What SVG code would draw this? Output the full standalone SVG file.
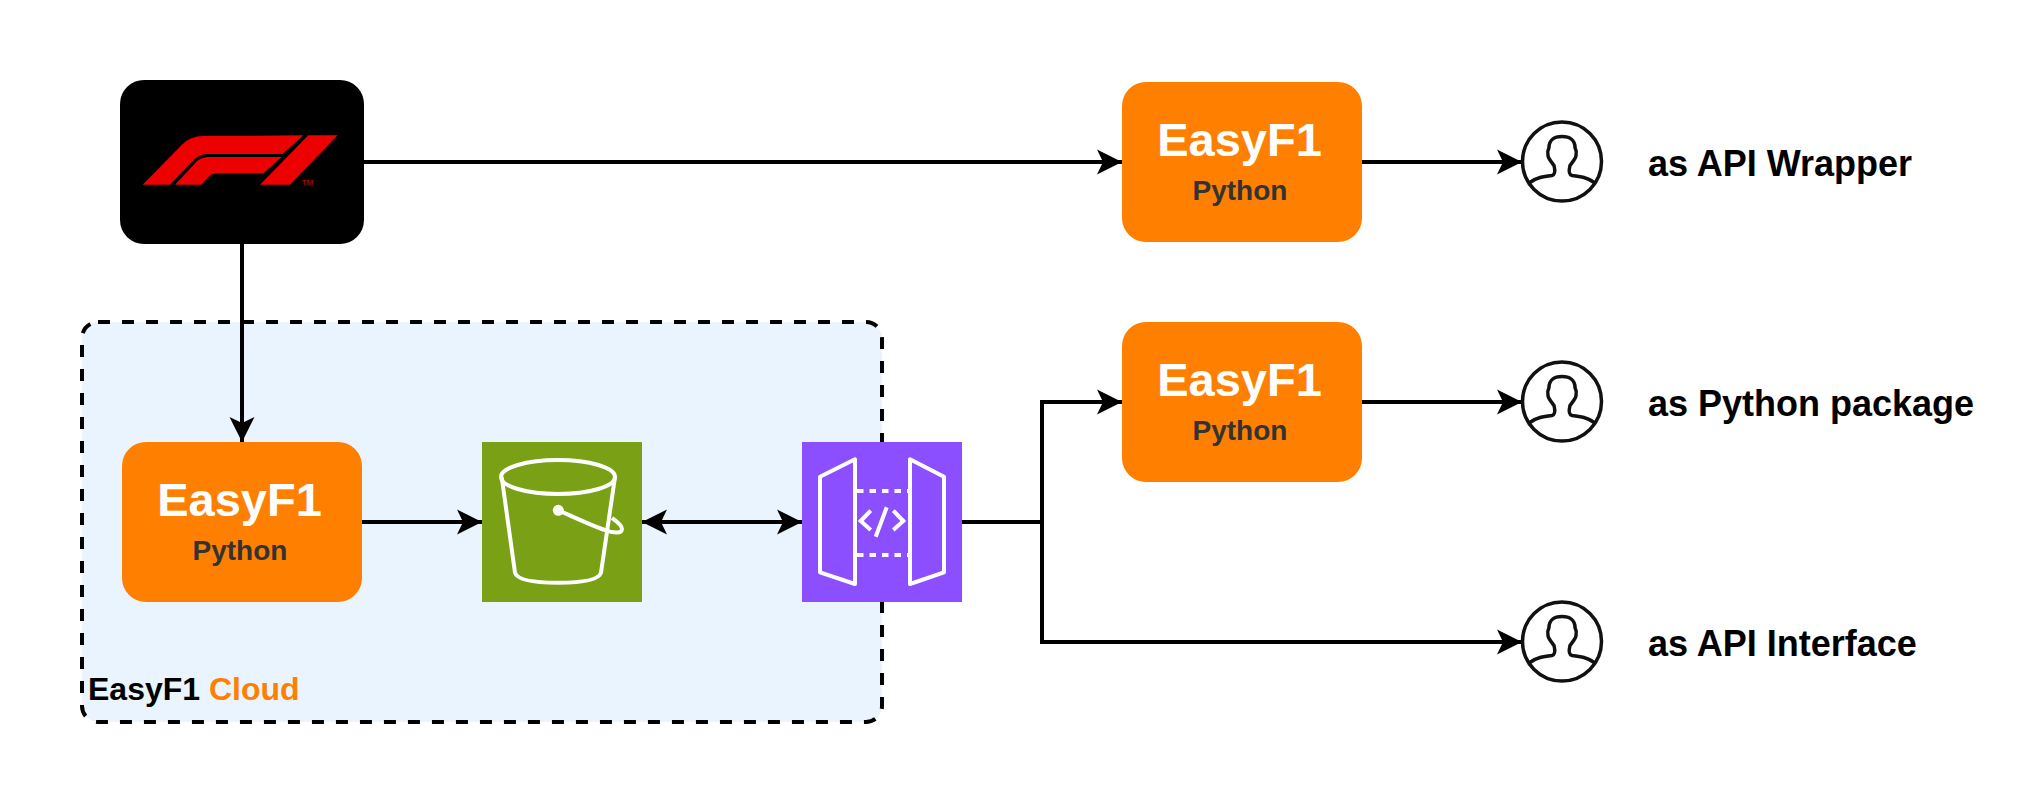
<svg xmlns="http://www.w3.org/2000/svg" width="2040" height="800" viewBox="0 0 2040 800">
<style>
text{font-family:"Liberation Sans",Arial,sans-serif;font-weight:bold}
.c{fill:none;stroke:#000;stroke-width:4}
.t1{font-size:47px;fill:#fff;text-anchor:middle}
.t2{font-size:28px;fill:#333;text-anchor:middle}
.l{font-size:36px;fill:#000}
.w{fill:none;stroke:#fff;stroke-width:4;stroke-linejoin:round}
.u{fill:none;stroke:#111;stroke-width:3.5;stroke-linejoin:round}
</style>
<defs>
<marker id="a" markerUnits="userSpaceOnUse" markerWidth="26" markerHeight="26" refX="25" refY="13" orient="auto-start-reverse"><path d="M0 0.5 L25 13 L0 25.5 L6 13Z" fill="#000"/></marker>
<g id="user"><circle cx="0" cy="0" r="39.5" class="u"/><path class="u" d="M-33 21.5 C-26 16 -18 15 -10 14 C-6 13 -7 8 -8 4 C-10 1 -14 -3 -14 -6 C-15 -10 -14 -12 -13 -14 C-13 -21 -8 -25 0 -25 C8 -25 13 -21 13 -14 C14 -12 15 -10 14 -6 C14 -3 10 1 8 4 C7 8 6 13 10 14 C18 15 26 16 33 21.5"/></g>
<g id="card"><rect x="0" y="0" width="240" height="160" rx="24" fill="#ff8000"/><text class="t1" x="117.5" y="74">EasyF1</text><text class="t2" x="118" y="118">Python</text></g>
</defs>
<g id="cloud"><rect x="82" y="322" width="800" height="400" rx="16" fill="#eaf4fe"/><rect x="82" y="322" width="800" height="400" rx="16" fill="none" stroke="#000" stroke-width="4" stroke-dasharray="12 12"/><text x="88" y="700" style="font-size:32px">EasyF1 <tspan fill="#ff8000">Cloud</tspan></text></g>
<g id="connectors">
<path class="c" marker-end="url(#a)" d="M364 162H1122"/>
<path class="c" marker-end="url(#a)" d="M242 244V442"/>
<path class="c" marker-end="url(#a)" d="M1362 162H1522"/>
<path class="c" marker-end="url(#a)" d="M1362 402H1522"/>
<path class="c" marker-end="url(#a)" d="M362 522H482"/>
<path class="c" marker-start="url(#a)" marker-end="url(#a)" d="M642 522H802"/>
<path class="c" marker-end="url(#a)" d="M962 522H1042V402H1122"/>
<path class="c" marker-end="url(#a)" d="M1042 522V642H1522"/>
</g>
<g id="f1"><rect x="120" y="80" width="244" height="164" rx="24" fill="#000"/>
<g transform="translate(100 60) scale(.33333)" fill="#ed0000"><path d="M128 374 L245 255 Q270 228 310 228 L610 226 L548 282 L325 282 Q300 282 283 298 L210 374Z"/><path d="M225 374 L303 374 L325 352 Q335 340 350 340 L490 340 L545 291 L320 291 Q295 295 285 310Z"/><path d="M480 374 L570 374 L713 226 L625 226Z"/></g><text x="301.5" y="184.5" style="font-size:8px;font-weight:normal" fill="#e10600">TM</text></g>
<use href="#card" x="1122" y="82"/>
<use href="#card" x="1122" y="322"/>
<use href="#card" x="122" y="442"/>
<g id="s3"><rect x="482" y="442" width="160" height="160" fill="#7aa116"/>
<path class="w" d="M501.7 477 L515 572.7 Q518 582.7 558 582.7 Q598 582.7 601 572.7 L615 477"/><ellipse class="w" cx="558" cy="477" rx="57" ry="17"/><circle cx="558.3" cy="510.3" r="5.5" fill="#fff"/><path class="w" d="M560 511 C580 520 595 527 605 530 C612 533 622 534 622 529 C622 525 616 521 612 518"/></g>
<g id="apigw"><rect x="802" y="442" width="160" height="160" fill="#8c4fff"/>
<path class="w" d="M820 476.7 L855 459.3 V584 L820 572.3Z M910 459.3 L944 476.7 V572.3 L910 584Z"/>
<path class="w" stroke-dasharray="6.5 6" d="M857 491H909M857 555H909"/><path class="w" style="stroke-linejoin:miter" d="M870.7 510.7L860.7 521L870.7 530M893.3 510.7L903.3 521L893.3 530M886.7 507.3L875.7 536.7"/></g>
<use href="#user" x="1562" y="161.5"/>
<use href="#user" x="1562" y="401.5"/>
<use href="#user" x="1562" y="641.5"/>
<text class="l" x="1648" y="176">as API Wrapper</text>
<text class="l" x="1648" y="416">as Python package</text>
<text class="l" x="1648" y="656">as API Interface</text>
</svg>
